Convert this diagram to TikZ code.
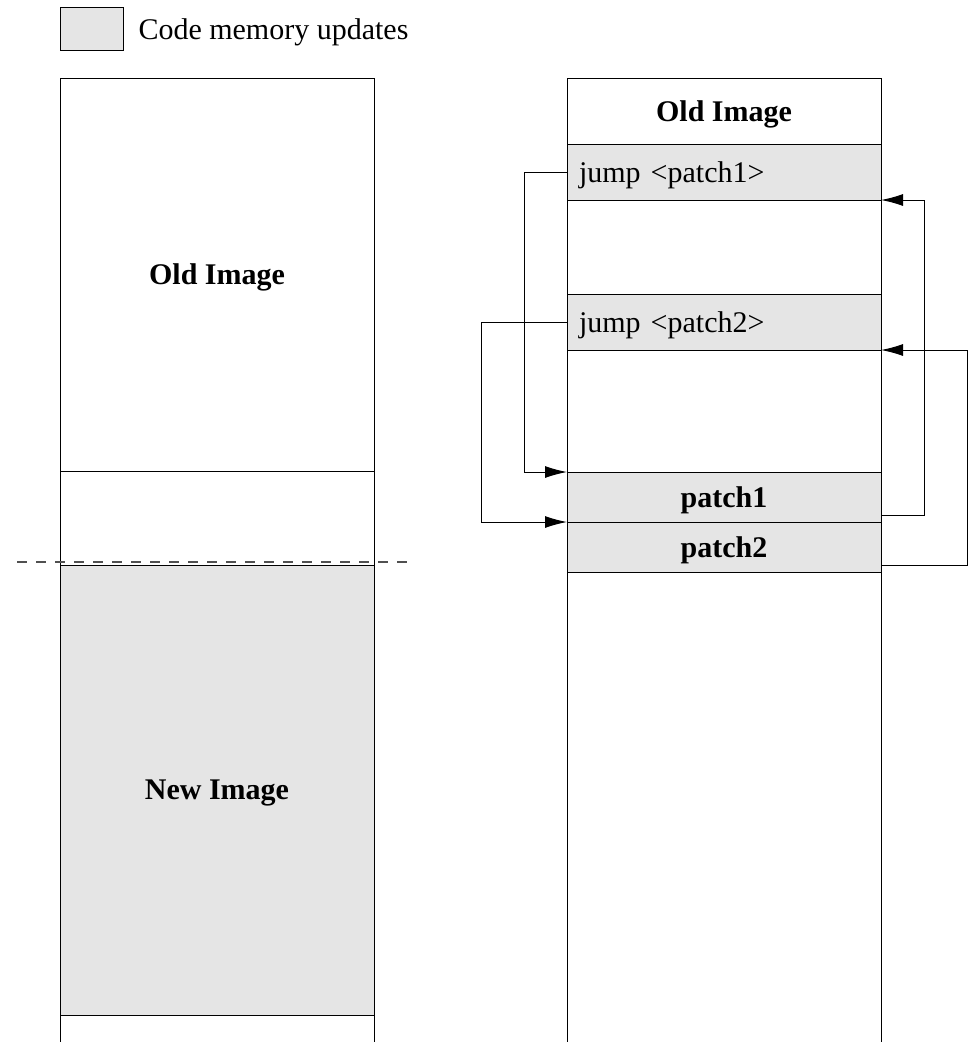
\documentclass[tikz,border=0pt]{standalone}
\usepackage{fontspec}
\setmainfont{Liberation Serif}
\usetikzlibrary{arrows.meta,positioning}
\definecolor{memgray}{RGB}{229,229,229}
\definecolor{cutgray}{RGB}{80,80,80}

\begin{document}
\begin{tikzpicture}[x=1pt,y=-1pt,line width=1pt,
    every node/.style={font=\fontsize{30}{36}\selectfont},
    slot/.style={draw,minimum width=314pt,inner sep=0pt,outer sep=0pt,text depth=0pt,anchor=north west},
    upd/.style={slot,fill=memgray},
    jmp/.style={-{Latex[length=22pt,width=12pt]}}]
  \useasboundingbox (0,0) rectangle (969,1042);
  \coordinate (bot) at (0,1042);
  % legend
  \node[draw,fill=memgray,minimum width=63pt,minimum height=43pt,inner sep=0pt,outer sep=0pt,anchor=north west]
    (key) at (60,7) {};
  \node[anchor=base west,inner sep=0pt] (keytxt) at (138,39) {Code memory updates};
  % left memory: old image + new image
  \node[slot,minimum height=393pt] (lold) at (60,78) {\textbf{Old Image}};
  \node[slot,minimum height=94pt,below=0pt of lold] (lfree) {};
  \node[upd,minimum height=450pt,below=0pt of lfree] (lnew) {\textbf{New Image}};
  \draw (lnew.south west) -- (lnew.south west |- bot);
  \draw (lnew.south east) -- (lnew.south east |- bot);
  \coordinate (cut1) at (17,562);
  \coordinate (cut2) at (408,562);
  \draw[cutgray,line width=1.3pt,dash pattern=on 10pt off 9pt] (cut1) -- (cut2);
  % right memory: patched old image
  \node[slot,minimum height=66pt] (rhdr) at (567,78) {\textbf{Old Image}};
  \node[upd,minimum height=56pt,text width=290pt,inner xsep=12pt,align=left,below=0pt of rhdr]
    (j1) {jump <patch1>};
  \node[slot,minimum height=94pt,below=0pt of j1] (g1) {};
  \node[upd,minimum height=56pt,text width=290pt,inner xsep=12pt,align=left,below=0pt of g1]
    (j2) {jump <patch2>};
  \node[slot,minimum height=122pt,below=0pt of j2] (g2) {};
  \node[upd,minimum height=50pt,below=0pt of g2] (p1) {\textbf{patch1}};
  \node[upd,minimum height=50pt,below=0pt of p1] (p2) {\textbf{patch2}};
  \draw (p2.south west) -- (p2.south west |- bot);
  \draw (p2.south east) -- (p2.south east |- bot);
  \foreach \i/\d in {1/43,2/86}{
    \draw[jmp] (j\i.west) -- ++(-\d,0) |- (p\i.north west);
    \draw[jmp] ([yshift=-18pt]p\i.east) -- ++(\d,0) |- (j\i.south east);
  }
\end{tikzpicture}
\end{document}
